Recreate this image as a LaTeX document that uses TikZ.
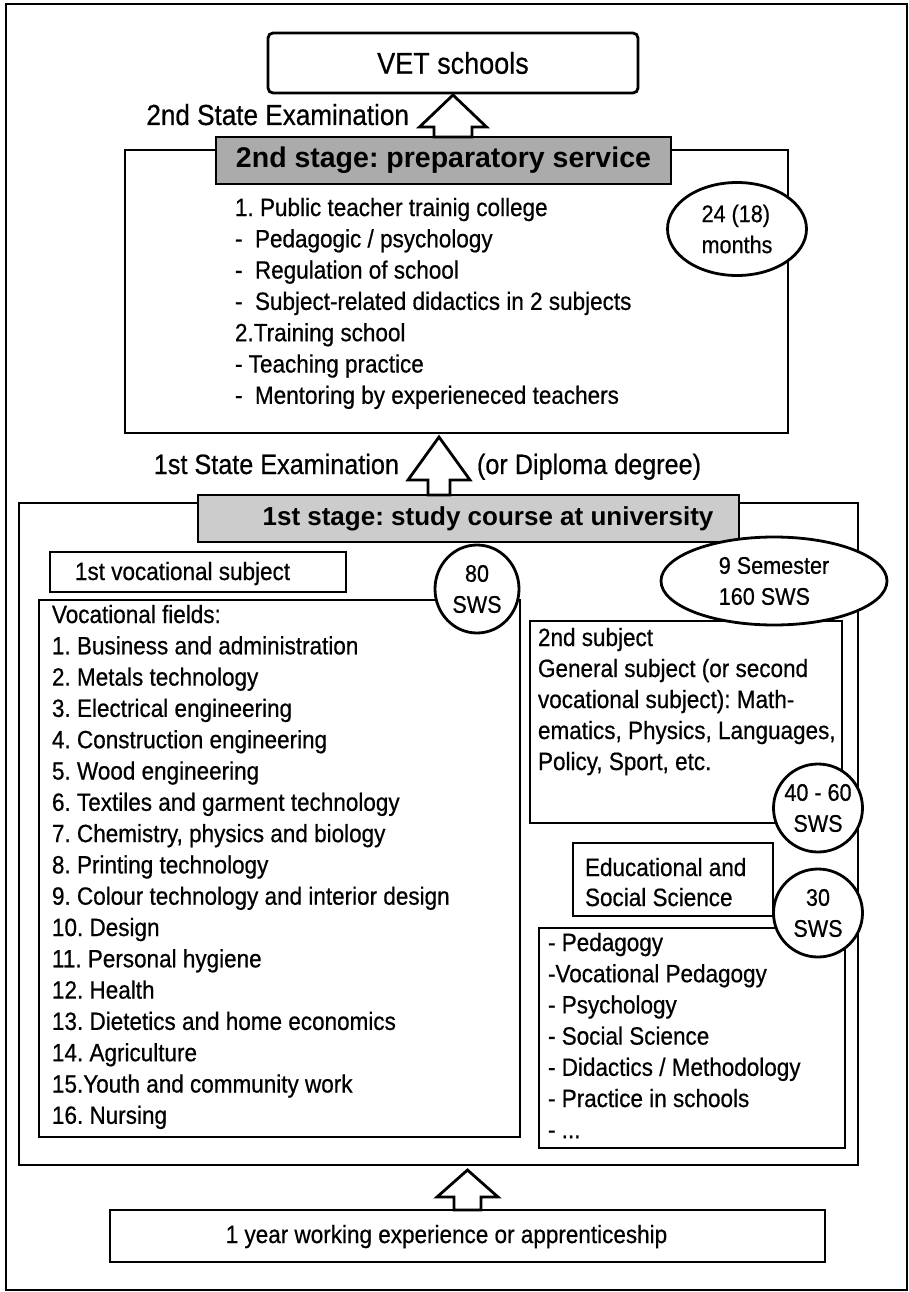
\documentclass[tikz,border=0pt]{standalone}
\usepackage{fontspec}
\setmainfont{Liberation Sans}[FakeStretch=0.9,FakeBold=0.6]
\newfontfamily\hdrfont{Liberation Sans}
\usetikzlibrary{calc,shapes.geometric}
\frenchspacing
\newcommand\blockarr[7]{% #1 base anchor, #2 target anchor, #3 x, #4 shaft half, #5 head half, #6 head length, #7 gap
  \draw[arrowst] let \p1=(#1), \p2=(#2) in
    (#3pt-#4pt,\y1) -- (#3pt-#4pt,\y2-#7pt-#6pt) -- (#3pt-#5pt,\y2-#7pt-#6pt) -- (#3pt,\y2-#7pt)
    -- (#3pt+#5pt,\y2-#7pt-#6pt) -- (#3pt+#4pt,\y2-#7pt-#6pt) -- (#3pt+#4pt,\y1) -- cycle;}
\begin{document}
\begin{tikzpicture}[x=1pt,y=-1pt,
  box/.style={draw, line width=2.8pt, inner sep=0pt, outer sep=0pt, fill=white},
  txt/.style={inner sep=0pt, outer sep=0pt, anchor=base west, align=left, font=\fontsize{25}{31.3}\selectfont\frenchspacing},
  oval/.style={draw, line width=2.8pt, ellipse, fill=white, inner xsep=-12pt, inner ysep=-10pt, align=center, font=\fontsize{24}{31}\selectfont},
  arrowst/.style={draw, line width=2.8pt, fill=white, line join=miter},
  hdr/.style={box, font=\hdrfont\bfseries},
]
\useasboundingbox (0,0) rectangle (909,1292);
\draw[line width=2pt] (6,4) rectangle (907,1290);

% ---- 2nd stage ----
\node[box, minimum width=663pt, minimum height=283pt] (stage2) at (456.5,291.5) {};
\node[hdr, fill=black!33, minimum width=455pt, minimum height=47pt, font=\hdrfont\bfseries\fontsize{28.5}{34}\selectfont] (hdr2) at (443.5,160.5) {2nd stage: preparatory service};
\node[box, rounded corners=5pt, minimum width=370pt, minimum height=60pt, font=\fontsize{30}{36}\selectfont] (vet) at (453,63) {VET schools};
\blockarr{hdr2.north}{vet.south}{453}{19}{33.5}{32}{2}
\node[txt, anchor=base east, font=\fontsize{29}{34}\selectfont] (exam2) at (409,125) {2nd State Examination};
% anchor = baseline of the last line
\node[txt] (list2) at (235,403.8) {1. Public teacher trainig college\\
-\ \ Pedagogic / psychology\\
-\ \ Regulation of school\\
-\ \ Subject-related didactics in 2 subjects\\
2.Training school\\
- Teaching practice\\
-\ \ Mentoring by experieneced teachers};
\node[oval, align=left, minimum width=139pt, minimum height=93pt] (e24) at (737,229) {24 (18)\\months};

% ---- 1st stage ----
\node[box, minimum width=839pt, minimum height=662pt] (stage1) at (438.5,834) {};
\node[hdr, fill=black!20, minimum width=541pt, minimum height=47pt, font=\hdrfont\bfseries\fontsize{26}{31}\selectfont] (hdr1) at (468.5,518.5) {\hspace*{39pt}1st stage: study course at university};
\blockarr{hdr1.north}{stage2.south}{439}{11}{31}{43}{4}
\node[txt, anchor=base east, font=\fontsize{28}{33}\selectfont] (exam1) at (399,474) {1st State Examination};
\node[txt, font=\fontsize{28}{33}\selectfont] (dipl) at (477,474) {(or Diploma degree)};

\node[box, minimum width=296pt, minimum height=40pt] (sub1) at (198,572) {};
\node[txt] (sub1t) at (75,580) {1st vocational subject};

\node[box, minimum width=481pt, minimum height=537pt] (voc) at (279.5,868.5) {};
\node[txt] (voclist) at (52,1123.8) {Vocational fields:\\
1. Business and administration\\
2. Metals technology\\
3. Electrical engineering\\
4. Construction engineering\\
5. Wood engineering\\
6. Textiles and garment technology\\
7. Chemistry, physics and biology\\
8. Printing technology\\
9. Colour technology and interior design\\
10. Design\\
11. Personal hygiene\\
12. Health\\
13. Dietetics and home economics\\
14. Agriculture\\
15.Youth and community work\\
16. Nursing};

\node[box, minimum width=312pt, minimum height=202pt] (subj2) at (686,722) {};
\node[txt, font=\fontsize{25}{31}\selectfont] (subj2t) at (538,770) {2nd subject\\
General subject (or second\\
vocational subject): Math-\\
ematics, Physics, Languages,\\
Policy, Sport, etc.};

\node[box, minimum width=200pt, minimum height=73pt] (edu) at (673,879.5) {};
\node[txt, font=\fontsize{25}{30}\selectfont] (edut) at (585,906) {Educational and\\Social Science};

\node[box, minimum width=306pt, minimum height=220pt] (ped) at (692,1038) {};
\node[txt, font=\fontsize{25}{31.2}\selectfont] (pedt) at (548,1138.2) {- Pedagogy\\
-Vocational Pedagogy\\
- Psychology\\
- Social Science\\
- Didactics / Methodology\\
- Practice in schools\\
- ...};

\node[oval, minimum width=84pt, minimum height=88pt] (e80) at (477,589) {80\\SWS};
\node[oval, align=left, minimum width=226pt, minimum height=88pt] (e9) at (774,581) {9 Semester\\160 SWS};
\node[oval, minimum width=89pt, minimum height=88pt] (e4060) at (818,808) {40 - 60\\SWS};
\node[oval, minimum width=89pt, minimum height=88pt] (e30) at (818,913) {30\\SWS};

% ---- bottom ----
\node[box, minimum width=715pt, minimum height=52pt] (work) at (467.5,1236) {};
\node[txt, anchor=base] (workt) at (446.5,1243) {1 year working experience or apprenticeship};
\blockarr{work.north}{stage1.south}{467.5}{13.5}{30.5}{27}{5}
\end{tikzpicture}
\end{document}
